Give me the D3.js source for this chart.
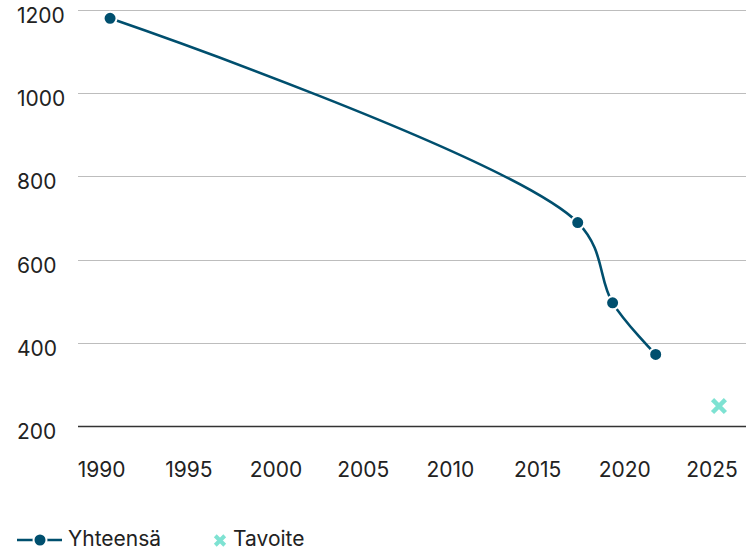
<!DOCTYPE html>
<html>
<head>
<meta charset="utf-8">
<script src="https://cdn.jsdelivr.net/npm/d3@7"></script>
<style>
  body { margin: 0; background: #fff; }
  svg text { font-family: Inter, "Noto Sans", sans-serif; fill: #222; }
</style>
</head>
<body>
<svg id="chart" width="746" height="551"></svg>
<script>
// values
var years = [1990.48, 2017.3, 2019.3, 2021.77];
var totals = [1180, 689, 496, 372];
var targetYear = [2025.4];
var targetValue = [248];
var xTicks = [1990, 1995, 2000, 2005, 2010, 2015, 2020, 2025];
var yTicks = [200, 400, 600, 800, 1000, 1200];
var seriesNames = ["Yhteensä", "Tavoite"];

var lineColor = "#004f6e";
var targetColor = "#7ee2d2";

var svg = d3.select("#chart");

var x = d3.scaleLinear().domain([1990, 2025]).range([101.7, 712]);
var y = d3.scaleLinear().domain([200, 1200]).range([426, 10]);

var gridLeft = 78, gridRight = 746;

// gridlines + y labels
svg.append("g").selectAll("line")
    .data(yTicks)
    .enter().append("line")
    .attr("x1", gridLeft).attr("x2", gridRight)
    .attr("y1", d => Math.round(y(d)) + 0.5)
    .attr("y2", d => Math.round(y(d)) + 0.5)
    .attr("stroke", d => d == 200 ? "#333" : "#bdbdbd")
    .attr("stroke-width", d => d == 200 ? 1.3 : 1);

svg.append("g").selectAll("text")
    .data(yTicks)
    .enter().append("text")
    .attr("x", 17)
    .attr("y", d => y(d) + 13)
    .attr("font-size", 21)
    .text(d => d);

// x labels
svg.append("g").selectAll("text")
    .data(xTicks)
    .enter().append("text")
    .attr("x", d => x(d))
    .attr("y", 477)
    .attr("font-size", 21)
    .attr("text-anchor", "middle")
    .text(d => d);

var data = years.map((d, i) => [d, totals[i]]);

var line = d3.line()
    .x(d => x(d[0]))
    .y(d => y(d[1]))
    .curve(d3.curveCatmullRom.alpha(0.5));

svg.append("path")
    .datum(data)
    .attr("d", line)
    .attr("fill", "none")
    .attr("stroke", lineColor)
    .attr("stroke-width", 2.6);

svg.append("g").selectAll("circle")
    .data(data)
    .enter().append("circle")
    .attr("cx", d => x(d[0]))
    .attr("cy", d => y(d[1]))
    .attr("r", 6.5)
    .attr("fill", lineColor)
    .attr("stroke", "#fff")
    .attr("stroke-width", 2);

var cross = d3.symbol().type(d3.symbolX).size(110);
svg.append("g").selectAll("path")
    .data(targetYear.map((d, i) => [d, targetValue[i]]))
    .enter().append("path")
    .attr("transform", d => "translate(" + x(d[0]) + "," + y(d[1]) + ")")
    .attr("d", cross)
    .attr("fill", "none")
    .attr("stroke", targetColor)
    .attr("stroke-width", 4.5);

// legend
var lg = svg.append("g");
lg.append("line").attr("x1", 17).attr("x2", 62).attr("y1", 540).attr("y2", 540)
    .attr("stroke", lineColor).attr("stroke-width", 2.6);
lg.append("circle").attr("cx", 40).attr("cy", 540).attr("r", 6.5)
    .attr("fill", lineColor).attr("stroke", "#fff").attr("stroke-width", 2);
lg.append("text").attr("x", 68).attr("y", 546).attr("font-size", 21).text(seriesNames[0]);

lg.append("path").attr("transform", "translate(220,540.5)")
    .attr("d", d3.symbol().type(d3.symbolX).size(60))
    .attr("fill", "none").attr("stroke", targetColor).attr("stroke-width", 4);
lg.append("text").attr("x", 233).attr("y", 546).attr("font-size", 21).text(seriesNames[1]);
</script>
</body>
</html>
